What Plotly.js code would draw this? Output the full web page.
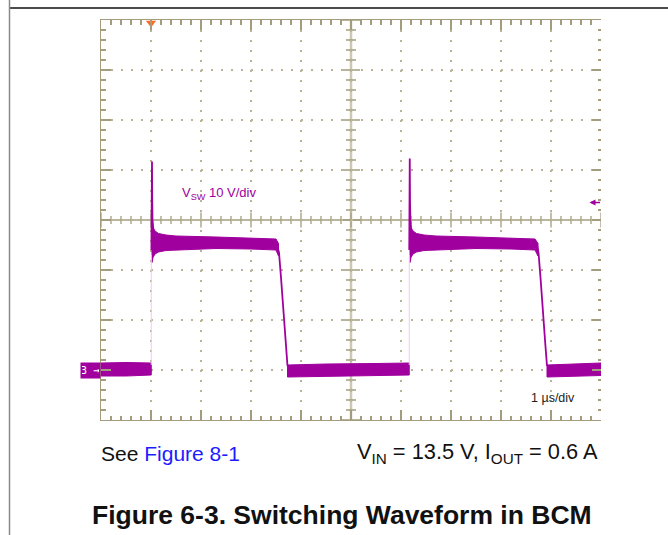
<!DOCTYPE html>
<html>
<head>
<meta charset="utf-8">
<script src="https://cdn.plot.ly/plotly-3.0.1.min.js"></script>
<style>html,body{margin:0;padding:0;background:#fff;}#chart{width:668px;height:535px;}</style>
</head>
<body>
<div id="chart"></div>
<script>
// ---- Data read from the scope capture (time in µs, voltage in V; 10 V/div, 1 µs/div) ----
const triggerUs = 1.0;
const triggerLevelV = 33.5;

// Centre line of the switch-node trace: spikes and edges
const timeUs = [1.008, 1.02, 1.024, 1.03, 1.04, 1.06, 1.1, 1.2, 1.4, 2.2, 3.0, 3.52, 3.56, 3.60, 3.65, 3.70, 3.73, null,
                6.165, 6.175, 6.18, 6.187, 6.197, 6.215, 6.255, 6.36, 6.56, 7.4, 8.2, 8.72, 8.75, 8.79, 8.84, 8.88, 8.92];
const vswV   = [24, 41.7, 34, 30, 28, 26.5, 25.8, 25.5, 25.4, 25.4, 25.3, 25, 23.5, 18.5, 11.5, 5, 0.8, null,
                24, 42.3, 34, 30, 28, 26.5, 25.8, 25.5, 25.4, 25.4, 25.3, 25, 23.5, 18.5, 12.5, 6, 0.8];

// Faint fast rising edges
const riseUs = [1.005, 1.005, null, 6.165, 6.165];
const riseV  = [1.0, 23.0, null, 1.0, 23.0];

// Noise envelope of the trace (segments separated by null)
const bandUs = [0, 0.5, 1.005, null,
                1.02, 1.04, 1.08, 1.15, 1.3, 1.5, 2.3, 3.0, 3.5, 3.55, null,
                3.73, 4.5, 5.5, 6.165, null,
                6.18, 6.20, 6.24, 6.31, 6.46, 6.7, 7.5, 8.2, 8.68, 8.74, null,
                8.92, 9.5, 10];
const bandHiV = [1.4, 1.5, 1.4, null,
                 31, 28.5, 27.8, 27.3, 27.0, 26.8, 26.6, 26.4, 26.2, 25.3, null,
                 1.0, 1.2, 1.3, 1.4, null,
                 31, 28.5, 27.8, 27.3, 27.0, 26.8, 26.6, 26.4, 26.2, 25.3, null,
                 1.0, 1.2, 1.4];
const bandLoV = [-1.2, -1.2, -1.0, null,
                 21.5, 22.5, 23.2, 23.6, 23.9, 24.1, 24.3, 24.2, 24.0, 22.8, null,
                 -1.4, -1.2, -1.1, -1.0, null,
                 21.5, 22.5, 23.2, 23.6, 23.9, 24.1, 24.3, 24.2, 24.0, 22.8, null,
                 -1.4, -1.2, -1.1];

// Axis geometry (divisions)
const xRange = [0, 10], yRange = [-10, 70];
const xDiv = 1, yDiv = 10, xMinor = 0.2, yMinor = 2;
const xCenter = 5, yCenter = 30;

// ---- Styles ----
const MAG = '#a0009e';
const GRAT = '#a39d7d';
const DOT = '#b9b398';
const FONT = 'Liberation Sans, Arial, Helvetica, sans-serif';

// Build envelope polygons from the band arrays
const polyX = [], polyY = [];
let seg = [];
function flush() {
  if (!seg.length) return;
  seg.forEach(i => { polyX.push(bandUs[i]); polyY.push(bandHiV[i]); });
  seg.slice().reverse().forEach(i => { polyX.push(bandUs[i]); polyY.push(bandLoV[i]); });
  polyX.push(bandUs[seg[0]]); polyY.push(bandHiV[seg[0]]);
  polyX.push(null); polyY.push(null);
  seg = [];
}
bandUs.forEach((t, i) => { if (t === null) flush(); else seg.push(i); });
flush();

const traces = [
  { x: polyX, y: polyY, type: 'scatter', mode: 'lines', fill: 'toself', fillcolor: MAG,
    line: { color: MAG, width: 1 }, hoverinfo: 'skip', connectgaps: false },
  { x: riseUs, y: riseV, type: 'scatter', mode: 'lines', line: { color: '#f2c8f0', width: 1 }, hoverinfo: 'skip' },
  { x: timeUs, y: vswV, type: 'scatter', mode: 'lines', line: { color: MAG, width: 1.8 }, hoverinfo: 'skip' },
  { x: [triggerUs], y: [yRange[1] - 0.6], type: 'scatter', mode: 'markers', yaxis: 'y2',
    marker: { symbol: 'triangle-down', size: 9, color: '#ff6a24' }, cliponaxis: false, hoverinfo: 'skip' }
];

// Centre cross with ticks
let tickPath = '';
for (let k = 0; k <= Math.round((xRange[1] - xRange[0]) / xMinor); k++) {
  const x = xRange[0] + k * xMinor;
  const h = (k % 5 === 0) ? 1.5 : 0.8;
  tickPath += `M${x.toFixed(3)},${yCenter - h}L${x.toFixed(3)},${yCenter + h}`;
}
for (let j = 0; j <= Math.round((yRange[1] - yRange[0]) / yMinor); j++) {
  const y = yRange[0] + j * yMinor;
  const h = (j % 5 === 0) ? 0.18 : 0.1;
  tickPath += `M${xCenter - h},${y}L${xCenter + h},${y}`;
}

const px2paperX = p => (p - 101) / 500;
const px2paperY = p => (420 - p) / 400;

const shapes = [
  { type: 'line', xref: 'x', yref: 'y', x0: xCenter, x1: xCenter, y0: yRange[0], y1: yRange[1],
    line: { color: '#cdc8b2', width: 2.5 }, layer: 'below' },
  { type: 'line', xref: 'x', yref: 'y', x0: xRange[0], x1: xRange[1], y0: yCenter, y1: yCenter,
    line: { color: GRAT, width: 1.5 }, layer: 'below' },
  { type: 'path', xref: 'x', yref: 'y', path: tickPath, line: { color: GRAT, width: 1.3 }, layer: 'below' },
  // page frame lines
  { type: 'line', xref: 'paper', yref: 'paper', x0: px2paperX(9.5), x1: px2paperX(668), y0: px2paperY(8), y1: px2paperY(8),
    line: { color: '#111', width: 1.4 } },
  { type: 'line', xref: 'paper', yref: 'paper', x0: px2paperX(9.5), x1: px2paperX(9.5), y0: px2paperY(0), y1: px2paperY(535),
    line: { color: '#8a8a8a', width: 1.5 } }
];

const annotations = [
  { xref: 'x', yref: 'y', x: 1.58, y: 35.4, xanchor: 'left', yanchor: 'middle', showarrow: false,
    text: 'V<sub>SW</sub> 10 V/div', font: { family: FONT, size: 13, color: MAG } },
  { xref: 'x', yref: 'y', x: 8.55, y: -5.6, xanchor: 'left', yanchor: 'middle', showarrow: false,
    text: '1 µs/div', font: { family: FONT, size: 12.5, color: '#222' } },
  { xref: 'x', yref: 'y', x: xRange[0], y: 0, xanchor: 'right', yanchor: 'middle', showarrow: false,
    text: '3 →', bgcolor: MAG, width: 17, height: 13, borderpad: 1,
    font: { family: 'DejaVu Sans Mono, monospace', size: 11, color: '#fff' } },
  { xref: 'x', yref: 'y', x: 9.77, y: triggerLevelV, ax: 12, ay: 0, showarrow: true, text: '',
    arrowcolor: MAG, arrowwidth: 1.5, arrowhead: 2, arrowsize: 0.8 },
  { xref: 'paper', yref: 'paper', x: px2paperX(99), y: px2paperY(453), xanchor: 'left', yanchor: 'middle', showarrow: false,
    text: 'See <span style="color:#1c1cff">Figure 8-1</span>', font: { family: FONT, size: 21, color: '#111' } },
  { xref: 'paper', yref: 'paper', x: px2paperX(600), y: px2paperY(453), xanchor: 'right', yanchor: 'middle', showarrow: false,
    text: 'V<sub>IN</sub> = 13.5 V, I<sub>OUT</sub> = 0.6 A', font: { family: FONT, size: 21.8, color: '#111' } },
  { xref: 'paper', yref: 'paper', x: px2paperX(342), y: px2paperY(515), xanchor: 'center', yanchor: 'middle', showarrow: false,
    text: '<b>Figure 6-3. Switching Waveform in BCM</b>', font: { family: FONT, size: 26.5, color: '#111' } }
];

const axisCommon = {
  showticklabels: false, zeroline: false, fixedrange: true,
  ticks: 'inside', tickcolor: GRAT, tickwidth: 1.3
};

const layout = {
  width: 668, height: 535,
  margin: { l: 101, r: 67, t: 20, b: 115, pad: 0 },
  paper_bgcolor: '#fff', plot_bgcolor: '#fff',
  showlegend: false,
  xaxis: Object.assign({}, axisCommon, {
    range: xRange, dtick: xDiv, tick0: 0, ticklen: 10,
    minor: { dtick: xMinor, tick0: 0, ticks: 'inside', ticklen: 4.5, tickwidth: 1.3, tickcolor: GRAT, showgrid: false },
    showline: true, linecolor: GRAT, linewidth: 1.3, mirror: 'ticks',
    showgrid: true, gridcolor: DOT, gridwidth: 1.5, griddash: '1.5px,8.5px'
  }),
  yaxis: Object.assign({}, axisCommon, {
    range: yRange, dtick: yDiv, tick0: yRange[0], ticklen: 10,
    minor: { dtick: yMinor, tick0: yRange[0], ticks: 'inside', ticklen: 4.5, tickwidth: 1.3, tickcolor: GRAT, showgrid: false },
    showline: true, linecolor: GRAT, linewidth: 1.3,
    showgrid: true, gridcolor: DOT, gridwidth: 1.5, griddash: '1.5px,8.5px'
  }),
  yaxis2: Object.assign({}, axisCommon, {
    overlaying: 'y', side: 'right', matches: 'y', range: yRange, dtick: yDiv, tick0: yRange[0], ticklen: 9,
    minor: { dtick: yMinor, tick0: yRange[0], ticks: 'inside', ticklen: 3.5, tickwidth: 1.3, tickcolor: GRAT, showgrid: false },
    showline: false, showgrid: false
  }),
  shapes: shapes,
  annotations: annotations
};

Plotly.newPlot('chart', traces, layout, { displayModeBar: false, staticPlot: true });
</script>
</body>
</html>
